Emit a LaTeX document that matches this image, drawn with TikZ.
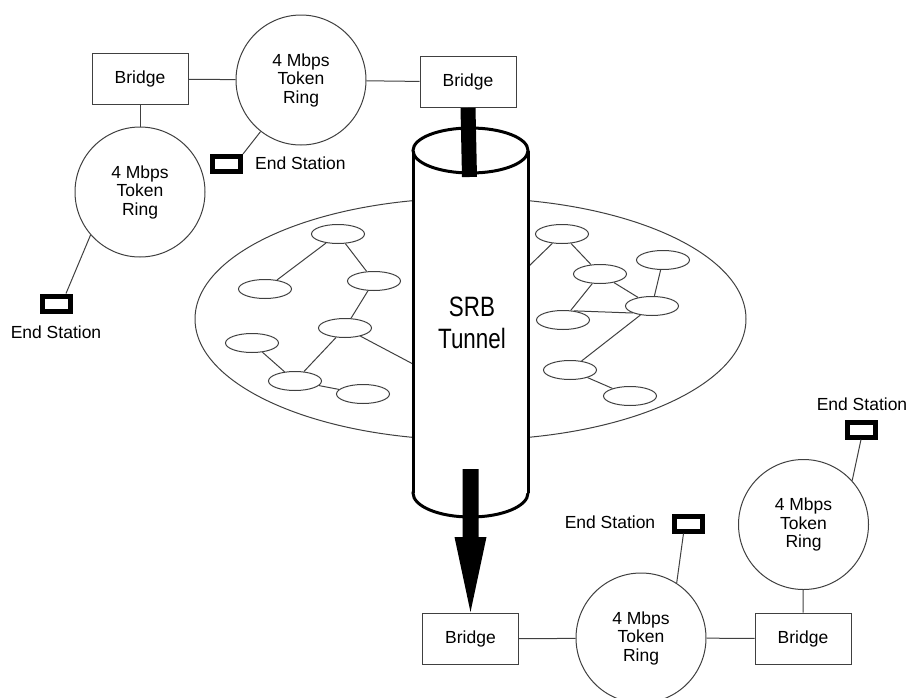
\documentclass[tikz,border=0pt]{standalone}
\usepackage{fontspec}
\setmainfont{Liberation Sans}
\newfontfamily\narrowfont[FakeStretch=0.8]{Liberation Sans}
\usetikzlibrary{shapes.geometric,calc}
\begin{document}
\begin{tikzpicture}[x=1pt,y=-1pt,
  thinline/.style={draw=black!75,line width=1pt},
  bridge/.style={thinline, rectangle, minimum width=96pt, minimum height=51pt, inner sep=0pt, font=\fontsize{17.5}{18}\selectfont},
  ring/.style={thinline, circle, minimum size=130pt, inner sep=0pt, align=center, font=\fontsize{17.5}{18.5}\selectfont},
  station/.style={draw=black, line width=5pt, rectangle, minimum width=28pt, minimum height=15pt, inner sep=0pt, fill=white},
  lbl/.style={inner sep=0pt, font=\fontsize{17.5}{18}\selectfont},
  net/.style={thinline, ellipse, minimum width=53pt, minimum height=19pt, inner sep=0pt},
  tube/.style={draw=black, line width=3pt}
]
\useasboundingbox (0,0) rectangle (906,697);
\clip (0,0) rectangle (906,697);

% ---- cloud network ----
\draw[thinline] (470.5,319) ellipse [x radius=275.5, y radius=121];
\node[net] (A) at (338,234) {};
\node[net] (B) at (265,289) {};
\node[net] (C) at (374,281) {};
\node[net] (D) at (345,328) {};
\node[net] (E) at (252,343) {};
\node[net] (F) at (295,381) {};
\node[net] (G) at (363,394) {};
\node[net] (H) at (562,234) {};
\node[net] (I) at (600,274) {};
\node[net] (J) at (663,260) {};
\node[net] (K) at (652,306) {};
\node[net] (L) at (563,320) {};
\node[net] (M) at (570,370) {};
\node[net] (N) at (630,396) {};
\coordinate (t1) at (413,364);
\coordinate (t2) at (528,267);
\draw[thinline] (A) -- (B);
\draw[thinline] (A) -- (C);
\draw[thinline] (C) -- (D);
\draw[thinline] (D) -- (F);
\draw[thinline] (E) -- (F);
\draw[thinline] (F) -- (G);
\draw[thinline] (D) -- (t1);
\draw[thinline] (H) -- (t2);
\draw[thinline] (H) -- (I);
\draw[thinline] (I) -- (L);
\draw[thinline] (I) -- (K);
\draw[thinline] (J) -- (K);
\draw[thinline] (L.40) -- (K.200);
\draw[thinline] (K) -- (M);
\draw[thinline] (M) -- (N);

% ---- tunnel ----
\fill[white] (413,150.5) rectangle (528,493);
\draw[tube, fill=white] (470.5,493) ellipse [x radius=57.5, y radius=24];
\fill[white] (413,150.5) rectangle (528,493);
\draw[tube] (470.5,150.5) ellipse [x radius=57.5, y radius=22.5];
\draw[tube] (413,150.5) -- (413,493);
\draw[tube] (528,150.5) -- (528,493);
\node[font=\narrowfont\fontsize{28}{32}\selectfont, align=center, inner sep=0pt] (srb) at (472,323) {SRB\\Tunnel};

% ---- top-left side ----
\node[bridge] (btl) at (140,79) {Bridge};
\node[ring] (rt) at (301,80) {4 Mbps\\Token\\Ring};
\node[bridge] (btr) at (468,82) {Bridge};
\node[ring] (rl) at (140,192) {4 Mbps\\Token\\Ring};
\node[station] (es1) at (226.5,164) {};
\node[lbl, anchor=west] (l1) at (255,163) {End Station};
\node[station] (es2) at (56.5,303.5) {};
\node[lbl] (l2) at (56,332) {End Station};
\draw[thinline] (btl) -- (rt);
\draw[thinline] (rt) -- (btr);
\draw[thinline] (btl) -- (rl);
\draw[thinline] (es1.north east) -- (rt);
\draw[thinline] ($(es2.north east)+(-7,0)$) -- (rl.221);

% ---- bottom-right side ----
\node[bridge] (bb1) at (470.5,639) {Bridge};
\node[ring] (rb) at (641,638) {4 Mbps\\Token\\Ring};
\node[bridge] (bb2) at (803,638.5) {Bridge};
\node[ring] (rr) at (803.5,524.5) {4 Mbps\\Token\\Ring};
\node[station] (es3) at (688.5,523.5) {};
\node[lbl] (l3) at (610,522) {End Station};
\node[station] (es4) at (861,429.5) {};
\node[lbl] (l4) at (862,404) {End Station};
\draw[thinline] (bb1) -- (rb);
\draw[thinline] (rb) -- (bb2);
\draw[thinline] (rr) -- (bb2);
\draw[thinline] ($(es3.south)+(-5,0)$) -- (rb.57);
\draw[thinline] (es4.south) -- (rr.42);

% ---- tunnel arrows ----
\coordinate (ttop) at (469.5,177);
\draw[line width=15pt] (btr.south) -- (ttop);
\coordinate (ab) at (470.5,469);
\coordinate (tip) at ($(bb1.north)+(0,-1)$);
\fill (ab) ++(-8,0) -- ++(16,0) -- ($(tip)+(8,-75)$) -- ($(tip)+(16,-75)$) -- (tip)
      -- ($(tip)+(-16,-75)$) -- ($(tip)+(-8,-75)$) -- cycle;
\end{tikzpicture}
\end{document}
